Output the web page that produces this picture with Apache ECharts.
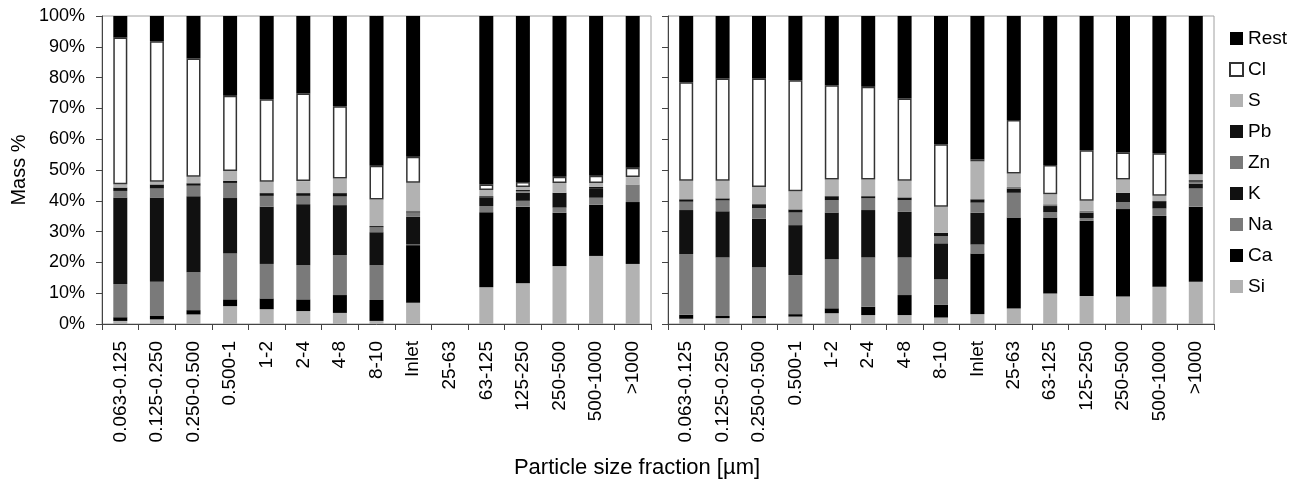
<!DOCTYPE html>
<html><head><meta charset="utf-8">
<script src="https://cdn.jsdelivr.net/npm/echarts@6/dist/echarts.min.js"></script>
<style>html,body{margin:0;padding:0;background:#fff}#c{width:1304px;height:483px}</style>
</head><body><div id="c"></div>
<script>
const categories = ['0.063-0.125','0.125-0.250','0.250-0.500','0.500-1','1-2','2-4','4-8','8-10','Inlet','25-63','63-125','125-250','250-500','500-1000','>1000'];
const elements = ['Si','Ca','Na','K','Zn','Pb','S','Cl','Rest'];
const legendOrder = ['Rest','Cl','S','Pb','Zn','K','Na','Ca','Si'];

// left panel (mass %)
const leftSi   = [1.0,1.5,3.1,5.8,4.8,4.2,3.6,1.0,6.9,null,11.9,13.2,18.8,22.1,19.5];
const leftCa   = [1.2,1.1,1.4,2.2,3.5,3.8,5.8,6.8,18.7,null,24.4,24.9,17.3,16.6,20.1];
const leftNa   = [10.8,11.1,12.3,14.9,11.2,11.1,13.0,11.3,0.2,null,2.0,1.9,1.7,2.3,5.7];
const leftK    = [28.1,27.4,24.7,18.0,18.6,19.8,16.2,10.7,9.0,null,2.8,2.6,4.8,2.9,0];
const leftZn   = [2.1,2.9,3.4,4.9,3.5,2.7,2.8,1.6,1.4,null,0,0.6,0,0,0];
const leftPb   = [1.1,1.3,0.8,0.7,0.9,0.9,1.1,0.4,0.4,null,0.4,0.4,0,0.6,0];
const leftS    = [1.1,0.9,2.1,3.2,3.7,3.9,4.7,8.6,9.3,null,2.0,0.9,3.2,1.3,2.4];
const leftCl   = [47.6,45.6,38.4,24.4,26.8,28.4,23.5,11.0,8.4,null,1.8,1.6,2.0,2.3,3.0];
const leftRest = [7.0,8.2,13.8,25.9,27.0,25.2,29.3,48.6,45.7,null,54.7,53.9,52.2,51.9,49.3];

// right panel (mass %)
const rightSi   = [1.7,1.9,1.9,2.4,3.5,2.9,2.9,2.1,3.2,5.0,9.9,9.1,8.9,12.1,13.7];
const rightCa   = [1.3,0.7,0.7,0.8,1.6,2.7,6.5,4.1,19.7,29.6,24.7,24.4,28.4,23.0,24.4];
const rightNa   = [19.7,19.0,15.8,12.7,15.9,16.0,12.2,8.3,2.9,8.0,1.7,0.9,2.3,2.4,5.9];
const rightK    = [14.3,15.0,15.8,16.2,15.2,15.4,14.8,11.7,10.3,1.4,2.0,1.8,3.0,2.4,1.6];
const rightZn   = [2.7,3.5,3.4,4.1,4.0,3.8,3.8,2.3,3.3,0.5,0.6,0.6,0,0,0.6];
const rightPb   = [0.8,0.7,1.3,1.0,1.3,0.7,0.9,1.1,1.1,0,0,0,0,0,0.5];
const rightS    = [6.0,5.7,5.6,5.9,5.4,5.4,5.4,8.5,12.3,4.4,3.2,3.2,4.3,1.7,1.9];
const rightCl   = [32.0,33.2,35.2,36.0,30.6,30.1,26.7,20.3,0.6,17.3,9.5,16.4,8.8,13.8,null];
const rightRest = [21.5,20.3,20.3,20.9,22.5,23.0,26.8,41.6,46.6,33.8,48.4,43.6,44.3,44.6,51.4];

const leftData  = {Si:leftSi,Ca:leftCa,Na:leftNa,K:leftK,Zn:leftZn,Pb:leftPb,S:leftS,Cl:leftCl,Rest:leftRest};
const rightData = {Si:rightSi,Ca:rightCa,Na:rightNa,K:rightK,Zn:rightZn,Pb:rightPb,S:rightS,Cl:rightCl,Rest:rightRest};

const fills = {Si:'#b2b2b2',Ca:'#000000',Na:'#7a7a7a',K:'#111111',Zn:'#7a7a7a',Pb:'#111111',S:'#b2b2b2',Cl:'#ffffff',Rest:'#000000'};
const FONT = 'Liberation Sans, Arial, sans-serif';

function mkSeries(dataMap, idx) {
  return elements.map(el => ({
    name: el,
    type: 'bar',
    stack: 'p' + idx,
    xAxisIndex: idx,
    yAxisIndex: idx,
    barWidth: 14,
    data: dataMap[el],
    itemStyle: el === 'Cl'
      ? {color: fills[el], borderColor: '#333', borderWidth: 1.5}
      : {color: fills[el], borderWidth: 0},
    emphasis: {disabled: true},
    animation: false
  }));
}

function mkX(idx) {
  return {
    type: 'category', gridIndex: idx, data: categories,
    axisLine: {show: true, lineStyle: {color: '#444', width: 1}},
    axisTick: {show: true, length: 6, inside: false, lineStyle: {color: '#444'}},
    axisLabel: {rotate: 90, fontSize: 19, color: '#000', fontFamily: FONT, margin: 17, interval: 0},
    splitLine: {show: false}
  };
}
function mkY(idx) {
  return {
    type: 'value', gridIndex: idx, min: 0, max: 100, interval: 10,
    axisLine: {show: true, lineStyle: {color: '#444', width: 1}},
    axisTick: {show: true, length: 6, lineStyle: {color: '#444'}},
    axisLabel: {show: idx === 0, formatter: '{value}%', fontSize: 18, color: '#000', fontFamily: FONT, margin: 17},
    splitLine: {show: false}
  };
}

const chart = echarts.init(document.getElementById('c'), null, {renderer: 'canvas'});
chart.setOption({
  backgroundColor: '#fff',
  animation: false,
  textStyle: {fontFamily: FONT},
  grid: [
    {left: 102, top: 16, width: 549, height: 308, show: true, borderColor: '#a0a0a0', borderWidth: 1, backgroundColor: 'transparent', containLabel: false, outerBoundsMode: 'none'},
    {left: 668, top: 16, width: 546, height: 308, show: true, borderColor: '#a0a0a0', borderWidth: 1, backgroundColor: 'transparent', containLabel: false, outerBoundsMode: 'none'}
  ],
  xAxis: [mkX(0), mkX(1)],
  yAxis: [mkY(0), mkY(1)],
  legend: {
    data: legendOrder, orient: 'vertical', left: 1229, top: 29, padding: 0,
    itemWidth: 13, itemHeight: 13, itemGap: 12, icon: 'rect',
    textStyle: {fontSize: 19, lineHeight: 19, color: '#000', fontFamily: FONT},
    selectedMode: false
  },
  graphic: [
    {type: 'text', x: 637, y: 468, style: {text: 'Particle size fraction [µm]', font: '22px ' + FONT, fill: '#000', align: 'center', verticalAlign: 'middle'}},
    {type: 'text', x: 19, y: 170, rotation: Math.PI / 2, style: {text: 'Mass %', font: '20px ' + FONT, fill: '#000', align: 'center', verticalAlign: 'middle'}}
  ],
  series: mkSeries(leftData, 0).concat(mkSeries(rightData, 1))
});
</script>
</body></html>
